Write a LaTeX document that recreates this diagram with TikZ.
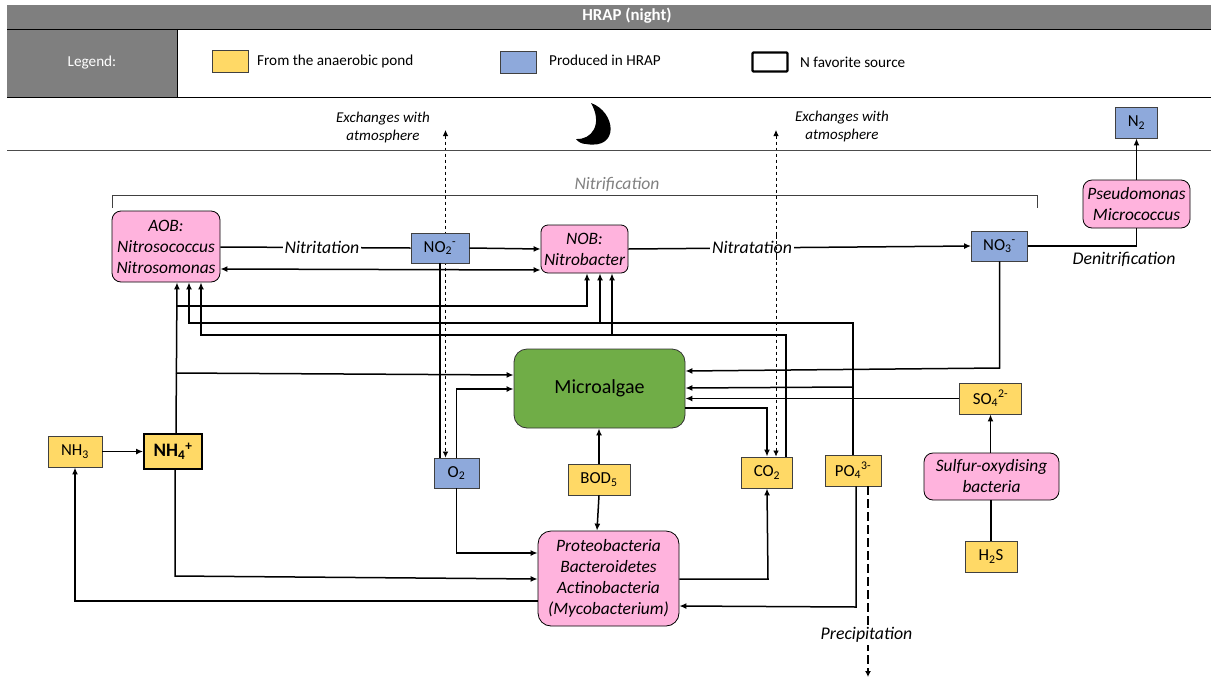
\documentclass[tikz,border=0pt]{standalone}
\usepackage{fontspec}
\setmainfont{Carlito}
\usetikzlibrary{arrows.meta,backgrounds}

\tikzset{
	pond/.style={draw=black!75, fill=pondyellow, line width=0.9pt, inner sep=0pt, font=\fontsize{16.8}{18}\selectfont},
	hrap/.style={draw=black!75, fill=hrapblue, line width=0.9pt, inner sep=0pt, font=\fontsize{16.8}{18}\selectfont},
	bacteria/.style={draw=black, fill=bactpink, line width=0.8pt, rounded corners=9pt, inner sep=0pt, align=center, font=\fontsize{17.4}{21}\selectfont\itshape},
	flow/.style={line width=1.5pt, -{Latex[length=7pt,width=6pt]}},
	plain/.style={line width=1.5pt},
	exchange/.style={line width=0.8pt, dashed, {Latex[length=6pt,width=5.5pt]}-{Latex[length=6pt,width=5.5pt]}},
	comment/.style={font=\fontsize{15}{18.5}\selectfont\itshape, align=center, inner sep=1pt},
	process/.style={font=\fontsize{17.8}{20}\selectfont\itshape, inner sep=2pt, fill=white},
	keytext/.style={anchor=west, inner sep=0pt, font=\fontsize{15.2}{17}\selectfont}
}
\definecolor{pondyellow}{HTML}{FFD966}
\definecolor{hrapblue}{HTML}{8EA9DB}
\definecolor{bactpink}{HTML}{FFB3DD}
\definecolor{algaegreen}{HTML}{70AD47}
\definecolor{bandgrey}{HTML}{7F7F7F}

\begin{document}
\begin{tikzpicture}[x=1pt, y=-1pt]
	\useasboundingbox (0,0) rectangle (1211,678);

	% header and legend
	\node[fill=bandgrey, minimum width=1204pt, minimum height=24pt, inner sep=0pt] (header) at (609,17) {};
	\node[text=white, inner sep=0pt, font=\fontsize{16.8}{18}\selectfont\bfseries] (title) at (627,16) {HRAP (night)};
	\node[fill=bandgrey, text=white, minimum width=170pt, minimum height=68pt, inner sep=0pt, font=\fontsize{15.2}{17}\selectfont] (legend) at (92,63) {Legend:};
	\draw[line width=1pt] (7,29) -- (1211,29);
	\draw[line width=1pt] (7,97) -- (1211,97);
	\draw[line width=1pt] (legend.north east) -- (legend.south east);
	\draw[line width=0.8pt, black!70] (7,150) -- (1211,150);

	\node[pond, minimum width=36pt, minimum height=22pt] (keypond) at (230,61) {};
	\node[keytext] (keypondtext) at (257,61) {From the anaerobic pond};
	\node[hrap, minimum width=36pt, minimum height=22pt] (keyhrap) at (518,62) {};
	\node[keytext] (keyhraptext) at (549,60) {Produced in HRAP};
	\node[draw, line width=2.2pt, rounded corners=1pt, minimum width=35pt, minimum height=19pt] (keysource) at (770,62) {};
	\node[keytext] (keysourcetext) at (800,62) {N favorite source};

	% moon
	\fill (591,103) .. controls (616,112) and (620,150) .. (586,144) .. controls (582,144) and (578,142) .. (576,139) .. controls (592,140) and (603,124) .. (591,103) -- cycle;

	\node[comment] (atmoleft) at (383,127.5) {Exchanges with\\atmosphere};
	\node[comment] (atmoright) at (842,126.5) {Exchanges with\\atmosphere};

	% Nitrification bracket
	\draw[line width=0.7pt, black!75] (112,208) -- (112,195) -- (1037,195) -- (1037,208);
	\node[font=\fontsize{17.6}{19}\selectfont\itshape, text=black!50] (nitrification) at (617,184) {Nitrification};

	% bacteria
	\node[bacteria, minimum width=108pt, minimum height=71pt] (aob) at (166,246.5) {AOB:\\Nitrosococcus\\Nitrosomonas};
	\node[bacteria, rounded corners=7pt, minimum width=87pt, minimum height=48pt] (nob) at (584.5,249) {NOB:\\Nitrobacter};
	\node[bacteria, minimum width=107pt, minimum height=48pt] (pseudo) at (1136.5,204) {Pseudomonas\\Micrococcus};
	\node[bacteria, minimum width=135pt, minimum height=47pt] (sulfur) at (991.5,476.5) {Sulfur-oxydising\\bacteria};
	\node[bacteria, rounded corners=13pt, minimum width=141pt, minimum height=95pt] (proteo) at (608.5,578.5) {Proteobacteria\\Bacteroidetes\\Actinobacteria\\(Mycobacterium)};
	\node[draw=black!80, fill=algaegreen, line width=0.8pt, rounded corners=13pt, minimum width=171pt, minimum height=79pt, font=\fontsize{20}{22}\selectfont] (algae) at (599.5,388.5) {Microalgae};

	% nitrogen, oxygen and the rest
	\node[hrap, minimum width=58pt, minimum height=30pt] (notwo) at (440,248) {NO\textsubscript{2}\textsuperscript{-}};
	\node[hrap, minimum width=56pt, minimum height=30pt] (nothree) at (999.5,246) {NO\textsubscript{3}\textsuperscript{-}};
	\node[hrap, minimum width=42pt, minimum height=31pt] (ntwo) at (1136.5,122.5) {N\textsubscript{2}};
	\node[hrap, minimum width=45pt, minimum height=30pt] (otwo) at (456.5,473) {O\textsubscript{2}};
	\node[pond, minimum width=54pt, minimum height=31pt] (nhthree) at (75,451.5) {NH\textsubscript{3}};
	\node[pond, draw=black, line width=1.8pt, minimum width=58pt, minimum height=35pt, font=\fontsize{19}{21}\selectfont\bfseries] (nhfour) at (173,451.5) {NH\textsubscript{4}\textsuperscript{+}};
	\node[pond, minimum width=62pt, minimum height=31pt] (bod) at (599,479.5) {BOD\textsubscript{5}};
	\node[pond, minimum width=51pt, minimum height=31pt] (cotwo) at (767,472.5) {CO\textsubscript{2}};
	\node[pond, minimum width=56pt, minimum height=31pt] (pofour) at (853,470.5) {PO\textsubscript{4}\textsuperscript{3-}};
	\node[pond, minimum width=62pt, minimum height=31pt] (sofour) at (990.5,398.5) {SO\textsubscript{4}\textsuperscript{2-}};
	\node[pond, minimum width=52pt, minimum height=31pt] (hsulf) at (991,556.5) {H\textsubscript{2}S};

	% nitrification chain
	\draw[plain] (aob.east |- 0,247) -- (notwo.west);
	\draw[flow] (notwo.east) -- (nob.west);
	\draw[flow, {Latex[length=7pt,width=6pt]}-{Latex[length=7pt,width=6pt]}] (aob.east |- 0,269) -- (nob.west |- 0,270);
	\draw[flow] (nob.east) -- (nothree.west);
	\draw[plain] (nothree.east) -| (pseudo.south);
	\draw[flow] (pseudo.north) -- (ntwo.south);
	\draw[plain] (notwo.south) -- (otwo.north -| notwo.south);

	% NH4+ towards the bacteria and the algae
	\draw[flow] (nhthree.east) -- (nhfour.west);
	\draw[flow] (nhfour.north -| 176,0) -- ([xshift=11pt]aob.south);
	\draw[flow] (176,373) -- (algae.west |- 0,375);
	\draw[flow] (177,306) -- (587,306) -- ([xshift=2.5pt]nob.south);
	\draw[flow] (nhfour.south -| 175,0) -- (175,576) -- (proteo.west |- 0,579);
	\draw[flow] (proteo.west |- 0,601) -| (nhthree.south);

	% PO4 3- and CO2 lines
	\draw[flow] (pofour.north) -- (853,323) -- (189,323) -- ([xshift=23pt]aob.south);
	\draw[flow] (600,323) -- ([xshift=15.5pt]nob.south);
	\draw[flow] (853,387) -- (algae.east |- 0,388);
	\draw[flow] (cotwo.north -| 786,0) -- (786,335) -- (201,335) -- ([xshift=35pt]aob.south);
	\draw[flow] (612,335) -- ([xshift=27.5pt]nob.south);
	\draw[flow] (algae.east |- 0,408) -- (767,408) -- (cotwo.north);
	\draw[flow] (proteo.east |- 0,579) -- (768,579) -- (cotwo.south);
	\draw[flow] (pofour.south -| 856,0) -- (856,607) -- (proteo.east |- 0,606);

	% other inputs of the algae
	\draw[flow] (nothree.south) -- (999.5,368) -- (algae.east |- 0,371);
	\draw[flow] (sofour.west) -- (algae.east |- sofour.west);
	\draw[flow] (otwo.north) -- (456.5,389) -- (algae.west |- 0,389);
	\draw[flow] (otwo.south) -- (456.5,553) -- (proteo.west |- 0,553);
	\draw[flow] (bod.north) -- (algae.south -| bod.north);
	\draw[flow] (bod.south) -- (proteo.north -| 597,0);
	\draw[flow] (sulfur.north -| sofour.south) -- (sofour.south);
	\draw[plain] (hsulf.north) -- (sulfur.south -| hsulf.north);

	% exchanges with atmosphere and precipitation
	\coordinate (upleft) at (445.5,130);
	\coordinate (upright) at (776,130);
	\coordinate (settled) at (868,677);
	\begin{scope}[on background layer]
		\draw[exchange] (upleft) -- (otwo.north -| upleft);
		\draw[exchange] (upright) -- (cotwo.north -| upright);
	\end{scope}
	\draw[line width=1.2pt, dash pattern=on 9pt off 4pt, -{Latex[length=6pt,width=6pt]}] (pofour.south -| settled) -- (settled);

	% labels on the lines
	\node[process] (nitritation) at (322,247) {Nitritation};
	\node[process] (denitrification) at (1124,259) {Denitrification};
	\node[process] (precipitation) at (866.5,635) {Precipitation};
	\node[process] (nitratation) at (752,247) {Nitratation};
	\draw[line width=0.8pt, dashed] (776,235) -- (776,260);
\end{tikzpicture}
\end{document}
